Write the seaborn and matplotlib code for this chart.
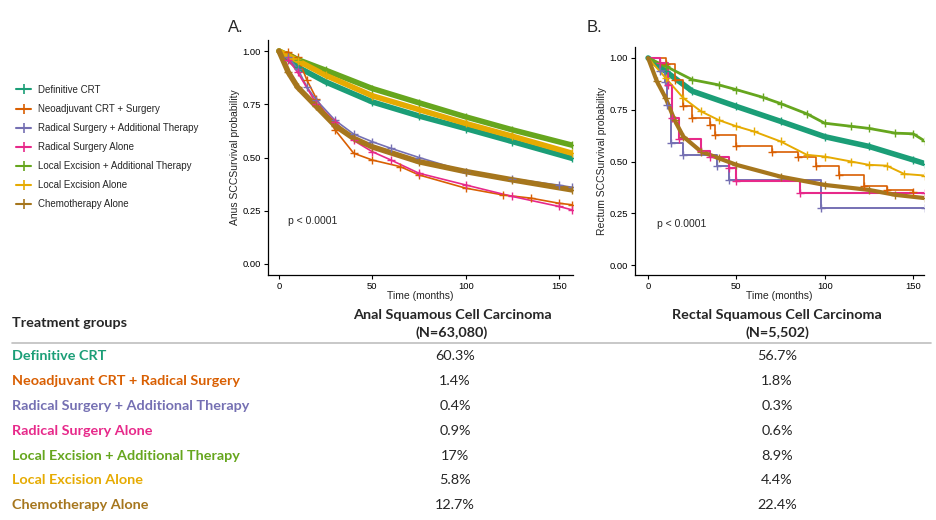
import matplotlib
matplotlib.use("Agg")
import matplotlib.pyplot as plt
from matplotlib.lines import Line2D
import seaborn as sns
import pandas as pd

sns.set_theme(style="ticks")
plt.rcParams['font.family'] = ['Liberation Sans', 'DejaVu Sans']

groups = ["Definitive CRT", "Neoadjuvant CRT + Surgery", "Radical Surgery + Additional Therapy",
          "Radical Surgery Alone", "Local Excision + Additional Therapy", "Local Excision Alone",
          "Chemotherapy Alone"]
table_groups = ["Definitive CRT", "Neoadjuvant CRT + Radical Surgery", "Radical Surgery + Additional Therapy",
                "Radical Surgery Alone", "Local Excision + Additional Therapy", "Local Excision Alone",
                "Chemotherapy Alone"]
colors = ["#1B9E77", "#D95F02", "#7570B3", "#E7298A", "#66A61E", "#E6AB02", "#A6761D"]

# ---- Panel A: anal SCC survival (time in months, survival probability)
a_def_t = [0, 10, 25, 50, 75, 100, 125, 157]
a_def_s = [1.0, 0.925, 0.855, 0.761, 0.695, 0.636, 0.575, 0.496]
a_neo_t = [0, 5, 10, 15, 20, 30, 40, 50, 65, 75, 100, 120, 135, 150, 157]
a_neo_s = [1.0, 0.995, 0.97, 0.863, 0.777, 0.63, 0.52, 0.488, 0.457, 0.418, 0.356, 0.324, 0.309, 0.285, 0.278]
a_rsat_t = [0, 5, 10, 15, 20, 30, 40, 50, 60, 75, 100, 125, 150, 157]
a_rsat_s = [1.0, 0.97, 0.917, 0.83, 0.77, 0.675, 0.61, 0.574, 0.543, 0.50, 0.434, 0.40, 0.37, 0.36]
a_rsa_t = [0, 5, 10, 20, 30, 40, 50, 60, 75, 100, 125, 150, 157]
a_rsa_s = [1.0, 0.96, 0.90, 0.753, 0.668, 0.58, 0.527, 0.488, 0.426, 0.371, 0.317, 0.27, 0.254]
a_leat_t = [0, 10, 25, 50, 75, 100, 125, 157]
a_leat_s = [1.0, 0.96, 0.91, 0.824, 0.757, 0.691, 0.63, 0.558]
a_lea_t = [0, 10, 25, 50, 75, 100, 125, 157]
a_lea_s = [1.0, 0.955, 0.886, 0.79, 0.725, 0.66, 0.60, 0.52]
a_chemo_t = [0, 5, 10, 20, 30, 40, 50, 75, 100, 125, 157]
a_chemo_s = [1.0, 0.90, 0.83, 0.74, 0.65, 0.59, 0.55, 0.48, 0.434, 0.395, 0.348]

# ---- Panel B: rectal SCC survival
b_def_t = [0, 10, 25, 50, 75, 100, 125, 150, 157]
b_def_s = [1.0, 0.935, 0.84, 0.766, 0.694, 0.62, 0.573, 0.508, 0.489]
b_neo_t = [0, 10, 15, 20, 25, 35, 38, 50, 70, 85, 95, 108, 122, 135, 150]
b_neo_s = [1.0, 0.97, 0.895, 0.766, 0.71, 0.677, 0.629, 0.573, 0.548, 0.524, 0.476, 0.435, 0.382, 0.363, 0.355]
b_rsat_t = [0, 6.6, 9.4, 10.8, 13, 19.8, 39, 46, 98, 157]
b_rsat_s = [1.0, 0.935, 0.882, 0.774, 0.589, 0.532, 0.476, 0.411, 0.274, 0.274]
b_rsa_t = [0, 7, 11, 13.6, 17.5, 30, 35, 46, 50, 86, 157]
b_rsa_s = [1.0, 0.976, 0.87, 0.71, 0.61, 0.55, 0.52, 0.47, 0.405, 0.35, 0.35]
b_leat_t = [0, 10, 25, 40, 50, 65, 75, 90, 100, 115, 125, 140, 150, 157]
b_leat_s = [1.0, 0.96, 0.895, 0.87, 0.847, 0.81, 0.78, 0.73, 0.685, 0.67, 0.66, 0.637, 0.634, 0.597]
b_lea_t = [0, 10, 20, 30, 40, 50, 60, 75, 90, 100, 115, 125, 135, 145, 157]
b_lea_s = [1.0, 0.903, 0.806, 0.742, 0.70, 0.67, 0.645, 0.597, 0.532, 0.524, 0.50, 0.484, 0.48, 0.44, 0.432]
b_chemo_t = [0, 5, 10, 15, 20, 30, 40, 50, 75, 100, 125, 140, 157]
b_chemo_s = [1.0, 0.887, 0.806, 0.70, 0.62, 0.548, 0.516, 0.484, 0.427, 0.387, 0.363, 0.339, 0.323]

anal_pct = ["60.3%", "1.4%", "0.4%", "0.9%", "17%", "5.8%", "12.7%"]
rect_pct = ["56.7%", "1.8%", "0.3%", "0.6%", "8.9%", "4.4%", "22.4%"]

panel_a = [(a_def_t, a_def_s), (a_neo_t, a_neo_s), (a_rsat_t, a_rsat_s), (a_rsa_t, a_rsa_s),
           (a_leat_t, a_leat_s), (a_lea_t, a_lea_s), (a_chemo_t, a_chemo_s)]
panel_b = [(b_def_t, b_def_s), (b_neo_t, b_neo_s), (b_rsat_t, b_rsat_s), (b_rsa_t, b_rsa_s),
           (b_leat_t, b_leat_s), (b_lea_t, b_lea_s), (b_chemo_t, b_chemo_s)]

widths_a = [4.0, 1.2, 1.2, 1.2, 4.0, 4.0, 4.0]
widths_b = [4.0, 1.2, 1.4, 1.5, 2.0, 1.4, 3.0]
steps_a = [False, False, False, False, False, False, False]
steps_b = [False, True, True, True, False, False, False]

fig = plt.figure(figsize=(9.36, 5.2), dpi=100)
axA = fig.add_axes([268/936, 1-275/520, (573-268)/936, (275-40)/520])
axB = fig.add_axes([635/936, 1-275/520, (924-635)/936, (275-47)/520])


def draw(ax, panel, widths, steps, ylabel, xlim, ylim):
    for (t, s), c, w, st, g in zip(panel, colors, widths, steps, groups):
        df = pd.DataFrame({"t": t, "s": s})
        sns.lineplot(data=df, x="t", y="s", ax=ax, color=c, linewidth=w,
                     drawstyle="steps-post" if st else "default", estimator=None, sort=False)
        sns.scatterplot(data=df.iloc[1:], x="t", y="s", ax=ax, color=c, marker="+",
                        s=30, linewidth=1.0, zorder=3)
    ax.set_xlim(*xlim)
    ax.set_ylim(*ylim)
    ax.set_xticks([0, 50, 100, 150])
    ax.set_yticks([0, 0.25, 0.5, 0.75, 1.0])
    ax.set_yticklabels(["0.00", "0.25", "0.50", "0.75", "1.00"])
    ax.set_xlabel("Time (months)", fontsize=7.5, labelpad=0)
    ax.set_ylabel(ylabel, fontsize=7.5, labelpad=2)
    ax.tick_params(labelsize=6.8, length=3, width=0.8, pad=2, colors="black")
    for sp in ["left", "bottom"]:
        ax.spines[sp].set_linewidth(0.9)
        ax.spines[sp].set_color("black")
    sns.despine(ax=ax)
    ax.text(5, 0.2, "p < 0.0001", fontsize=7.5, va="center", ha="left")


draw(axA, panel_a, widths_a, steps_a, "Anus SCCSurvival probability", (-5.9, 157.5), (-0.052, 1.052))
draw(axB, panel_b, widths_b, steps_b, "Rectum SCCSurvival probability", (-7.4, 156.2), (-0.048, 1.053))

fig.text(228/936, 1-28/520, "A.", fontsize=12, va="center", ha="left")
fig.text(587/936, 1-28/520, "B.", fontsize=12, va="center", ha="left")

handles = [Line2D([0], [0], color=c, lw=1.5, marker="+", markersize=7, markeredgewidth=1.2) for c in colors]
fig.legend(handles, groups, loc="upper left", bbox_to_anchor=(12/936, 1-81/520), frameon=False,
           fontsize=7, handlelength=1.6, handletextpad=0.7, labelspacing=0.93, borderaxespad=0)

# ---- table
tfam = ['Lato', 'DejaVu Sans']
fs = 10.4
bold = 'bold'

fig.text(12/936, 1-323/520, "Treatment groups", fontsize=fs, fontweight=bold, va="center", family=tfam)
fig.text(452/936, 1-315/520, "Anal Squamous Cell Carcinoma", fontsize=fs, fontweight=bold, va="center", ha="center", family=tfam)
fig.text(452/936, 1-333/520, "(N=63,080)", fontsize=fs, fontweight=bold, va="center", ha="center", family=tfam)
fig.text(777/936, 1-315/520, "Rectal Squamous Cell Carcinoma", fontsize=fs, fontweight=bold, va="center", ha="center", family=tfam)
fig.text(777/936, 1-333/520, "(N=5,502)", fontsize=fs, fontweight=bold, va="center", ha="center", family=tfam)
fig.add_artist(Line2D([12/936, 931/936], [1-343/520, 1-343/520], color="#BFBFBF", lw=1.2))

row_y = [356, 381, 406, 431, 456, 480, 505]
for y, g, c, pa, pr in zip(row_y, table_groups, colors, anal_pct, rect_pct):
    fig.text(12/936, 1-y/520, g, fontsize=fs, fontweight=bold, color=c, va="center", family=tfam)
    fig.text(455/936, 1-y/520, pa, fontsize=fs, va="center", ha="center", family=tfam)
    fig.text(777/936, 1-y/520, pr, fontsize=fs, va="center", ha="center", family=tfam)

fig.savefig("out.png", dpi=100, facecolor="white")
